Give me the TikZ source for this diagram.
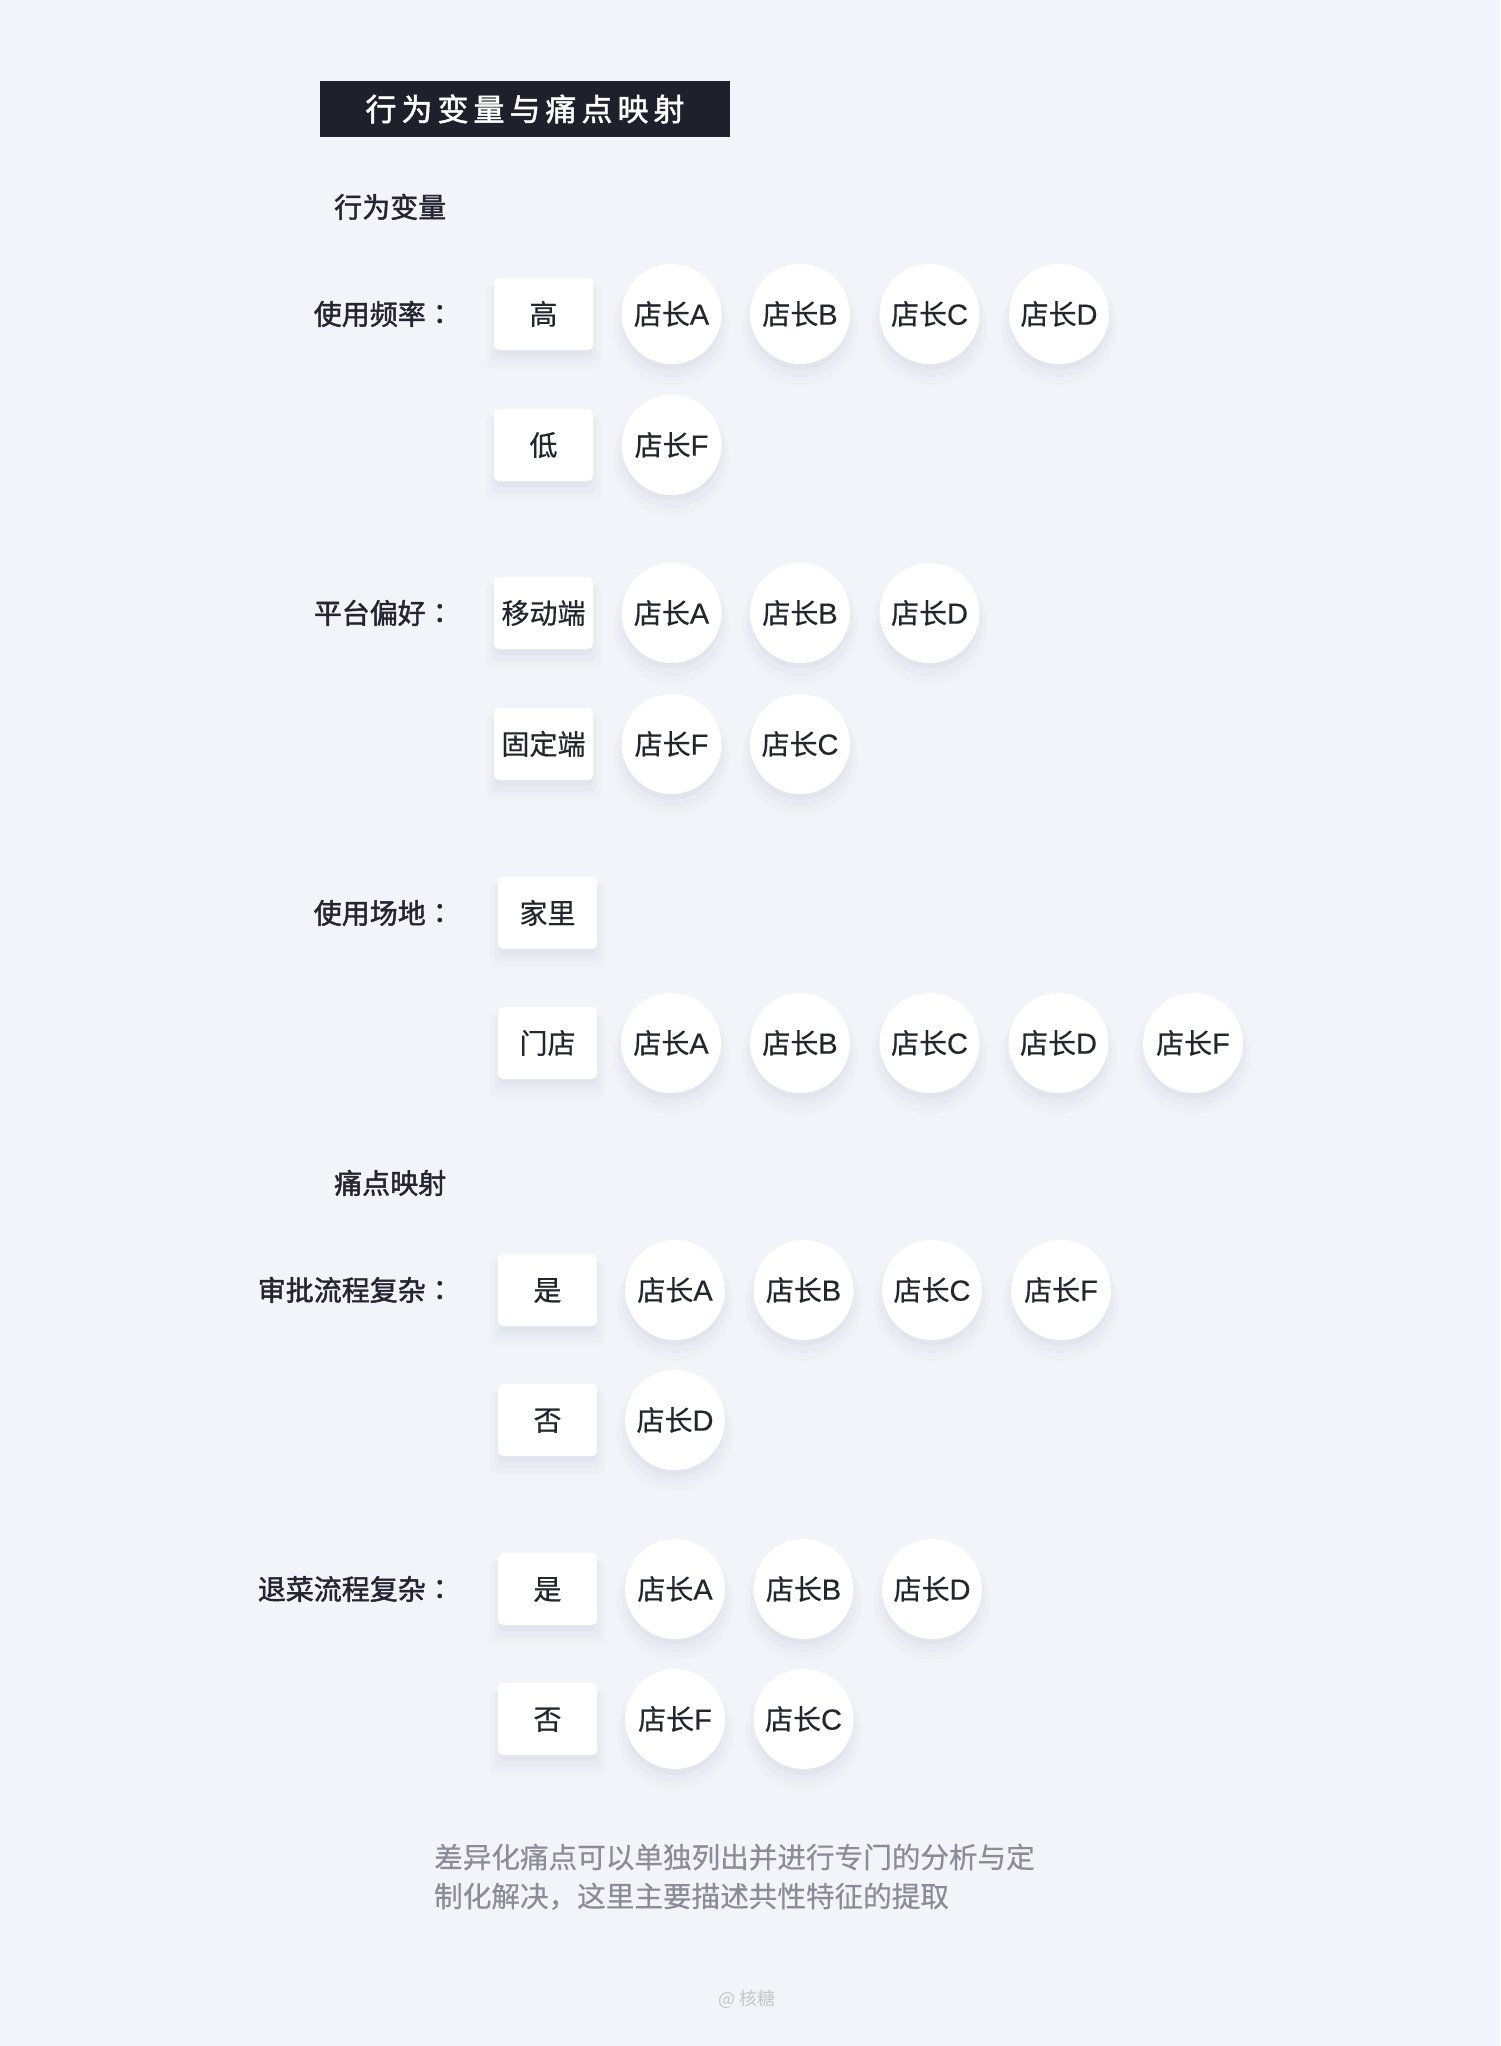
\documentclass[tikz,border=0pt]{standalone}
\usepackage{fontspec}
\setmainfont{Noto Sans CJK SC}
\newfontfamily\bodyfont{Noto Sans CJK SC}[FakeBold=0.5]
\newfontfamily\medfont{Noto Sans CJK SC}[FakeBold=1.6]
\newfontfamily\medjp{Noto Sans CJK JP}[FakeBold=1.6]
\newfontfamily\latinfont{Liberation Sans}[FakeBold=0.4]
\usetikzlibrary{shadows}
\definecolor{bg}{HTML}{F2F4F9}
\definecolor{titlebg}{HTML}{1E212C}
\definecolor{ink}{HTML}{23262F}
\definecolor{note}{HTML}{8A8D95}
\definecolor{mark}{HTML}{C3C6CD}
\definecolor{shc}{HTML}{8F97B0}
\newcommand\colonmark{{\medjp ：}}
\newcommand\boss[1]{店长{\fontsize{29}{34}\selectfont\latinfont #1}}
\tikzset{
  softshadow/.style={
    drop shadow={shadow xshift=0pt,shadow yshift=-11pt,shadow scale=1.16,fill=shc,opacity=0.035},
    drop shadow={shadow xshift=0pt,shadow yshift=-9pt,shadow scale=1.07,fill=shc,opacity=0.05},
    drop shadow={shadow xshift=0pt,shadow yshift=-7pt,shadow scale=0.98,fill=shc,opacity=0.07}},
  txt/.style={font=\fontsize{28}{34}\selectfont\bodyfont, text=ink, text height=24.6pt, text depth=3.4pt, inner sep=0pt},
  optbox/.style={txt, softshadow, fill=white, rounded corners=5pt, minimum width=99pt, minimum height=72pt},
  person/.style={txt, softshadow, fill=white, circle, minimum size=100pt},
  varlabel/.style={txt, font=\fontsize{28}{34}\selectfont\medfont, anchor=east},
  header/.style={txt, font=\fontsize{28}{34}\selectfont\medfont, anchor=west},
  notetxt/.style={txt, text=note, font=\fontsize{28.6}{39}\selectfont\bodyfont, text height=25.2pt, text depth=3.4pt, anchor=west},
}
\begin{document}
\begin{tikzpicture}[x=1pt,y=-1pt]
\fill[bg] (0,0) rectangle (1500,2046);
\useasboundingbox (0,0) rectangle (1500,2046);

% title
\node[fill=titlebg, minimum width=410pt, minimum height=56pt, inner sep=0pt,
      text=white, text height=27.3pt, text depth=3.7pt,
      font=\fontsize{31}{36}\selectfont\medfont] (title) at (525,109)
  {行\kern5pt为\kern5pt变\kern5pt量\kern5pt与\kern5pt痛\kern5pt点\kern5pt映\kern5pt射};

\node[header] (h1) at (334,207) {行为变量};

% 使用频率
\node[varlabel] (l1) at (454,314) {使用频率\colonmark};
\node[optbox] (s1h) at (543.5,314) {高};
\node[person] (s1ha) at (671.5,314) {\boss{A}};
\node[person] (s1hb) at (800,314) {\boss{B}};
\node[person] (s1hc) at (929.5,314) {\boss{C}};
\node[person] (s1hd) at (1059,314) {\boss{D}};
\node[optbox] (s1l) at (543.5,445) {低};
\node[person] (s1lf) at (671.5,445) {\boss{F}};

% 平台偏好
\node[varlabel] (l2) at (454,613) {平台偏好\colonmark};
\node[optbox] (s2m) at (543.5,613) {移动端};
\node[person] (s2ma) at (671.5,613) {\boss{A}};
\node[person] (s2mb) at (800,613) {\boss{B}};
\node[person] (s2md) at (929.5,613) {\boss{D}};
\node[optbox] (s2g) at (543.5,744) {固定端};
\node[person] (s2gf) at (671.5,744) {\boss{F}};
\node[person] (s2gc) at (800,744) {\boss{C}};

% 使用场地
\node[varlabel] (l3) at (454,913) {使用场地\colonmark};
\node[optbox] (s3j) at (547.5,913) {家里};
\node[optbox] (s3m) at (547.5,1043) {门店};
\node[person] (s3ma) at (671,1043) {\boss{A}};
\node[person] (s3mb) at (800,1043) {\boss{B}};
\node[person] (s3mc) at (929.5,1043) {\boss{C}};
\node[person] (s3md) at (1058.5,1043) {\boss{D}};
\node[person] (s3mf) at (1193,1043) {\boss{F}};

\node[header] (h2) at (334,1183) {痛点映射};

% 审批流程复杂
\node[varlabel] (l4) at (454,1290) {审批流程复杂\colonmark};
\node[optbox] (s4y) at (547.5,1290) {是};
\node[person] (s4ya) at (675,1290) {\boss{A}};
\node[person] (s4yb) at (803.5,1290) {\boss{B}};
\node[person] (s4yc) at (932,1290) {\boss{C}};
\node[person] (s4yf) at (1061,1290) {\boss{F}};
\node[optbox] (s4n) at (547.5,1420) {否};
\node[person] (s4nd) at (675,1420) {\boss{D}};

% 退菜流程复杂
\node[varlabel] (l5) at (454,1589) {退菜流程复杂\colonmark};
\node[optbox] (s5y) at (547.5,1589) {是};
\node[person] (s5ya) at (675,1589) {\boss{A}};
\node[person] (s5yb) at (803.5,1589) {\boss{B}};
\node[person] (s5yd) at (932,1589) {\boss{D}};
\node[optbox] (s5n) at (547.5,1719) {否};
\node[person] (s5nf) at (675,1719) {\boss{F}};
\node[person] (s5nc) at (803.5,1719) {\boss{C}};

% note
\node[notetxt] (n1) at (434,1857) {差异化痛点可以单独列出并进行专门的分析与定};
\node[notetxt] (n2) at (434,1896) {制化解决，这里主要描述共性特征的提取};

\node[txt, text=mark, font=\fontsize{18}{22}\selectfont, text height=15.8pt, text depth=2.2pt] (wm) at (747,1999) {@ 核糖};
\end{tikzpicture}
\end{document}
